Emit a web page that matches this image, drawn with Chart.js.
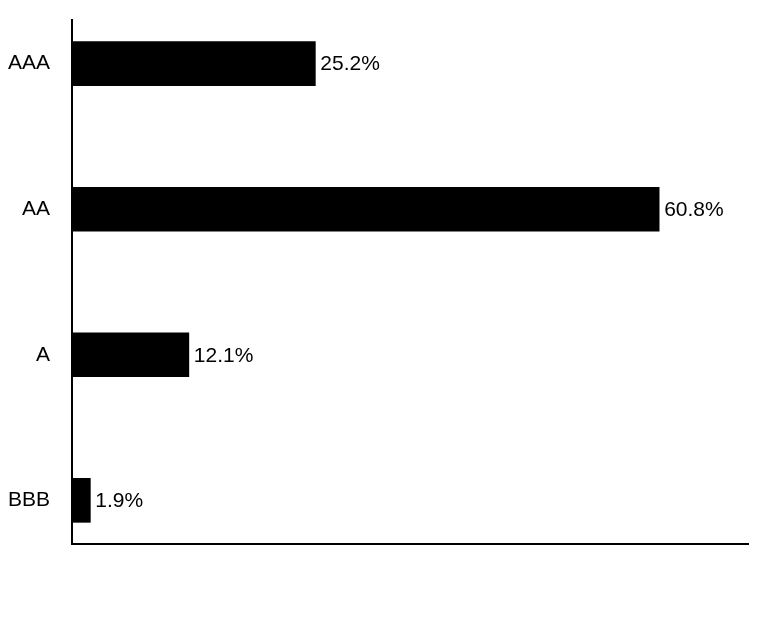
<!DOCTYPE html>
<html>
<head>
<meta charset="utf-8">
<script src="https://cdn.jsdelivr.net/npm/chart.js@4/dist/chart.umd.min.js"></script>
<style>
  html, body { margin: 0; padding: 0; background: #fff; }
  #wrap { width: 768px; height: 624px; }
</style>
</head>
<body>
<div id="wrap"><canvas id="rating-chart"></canvas></div>
<script>
const categories = ["AAA", "AA", "A", "BBB"];
const shares = [25.2, 60.8, 12.1, 1.9];
const valueLabels = ["25.2%", "60.8%", "12.1%", "1.9%"];

const fontFamily = "'Liberation Sans', Arial, sans-serif";

// draw the percentage next to each bar
const valueLabelPlugin = {
  id: "valueLabels",
  afterDatasetsDraw(chart) {
    const ctx = chart.ctx;
    const meta = chart.getDatasetMeta(0);
    ctx.save();
    ctx.font = "21px " + fontFamily;
    ctx.fillStyle = "#000";
    ctx.textAlign = "left";
    ctx.textBaseline = "middle";
    meta.data.forEach((bar, i) => {
      ctx.fillText(valueLabels[i], bar.x + 5, bar.y + 1);
    });
    ctx.restore();
  }
};

new Chart(document.getElementById("rating-chart"), {
  type: "bar",
  data: {
    datasets: [
      {
        data: categories.map((c, i) => ({ x: shares[i], y: i })),
        backgroundColor: "#000",
        borderWidth: 0,
        barThickness: 44
      }
    ]
  },
  options: {
    indexAxis: "y",
    responsive: true,
    maintainAspectRatio: false,
    animation: false,
    devicePixelRatio: 1,
    layout: { padding: { top: 20, right: 20, bottom: 0, left: 0 } },
    plugins: {
      legend: { display: false },
      tooltip: { enabled: false }
    },
    scales: {
      x: {
        type: "linear",
        min: 0,
        max: 70,
        grid: { display: false },
        border: { display: true, color: "#000", width: 2 },
        ticks: { display: false },
        afterFit(scale) {
          scale.height = 80;
          scale.paddingLeft = 0;
          scale.paddingRight = 0;
        }
      },
      y: {
        type: "linear",
        reverse: true,
        offset: false,
        min: -0.3,
        max: 3.3,
        grid: { display: false, drawTicks: false },
        border: { display: true, color: "#000", width: 2 },
        afterBuildTicks(scale) {
          scale.ticks = categories.map((c, i) => ({ value: i }));
        },
        ticks: {
          padding: 22,
          color: "#000",
          font: { size: 21, family: fontFamily },
          callback: (value) => categories[value]
        },
        afterFit(scale) {
          scale.width = 72;
          scale.paddingTop = 0;
          scale.paddingBottom = 0;
        }
      }
    }
  },
  plugins: [valueLabelPlugin]
});
</script>
</body>
</html>
